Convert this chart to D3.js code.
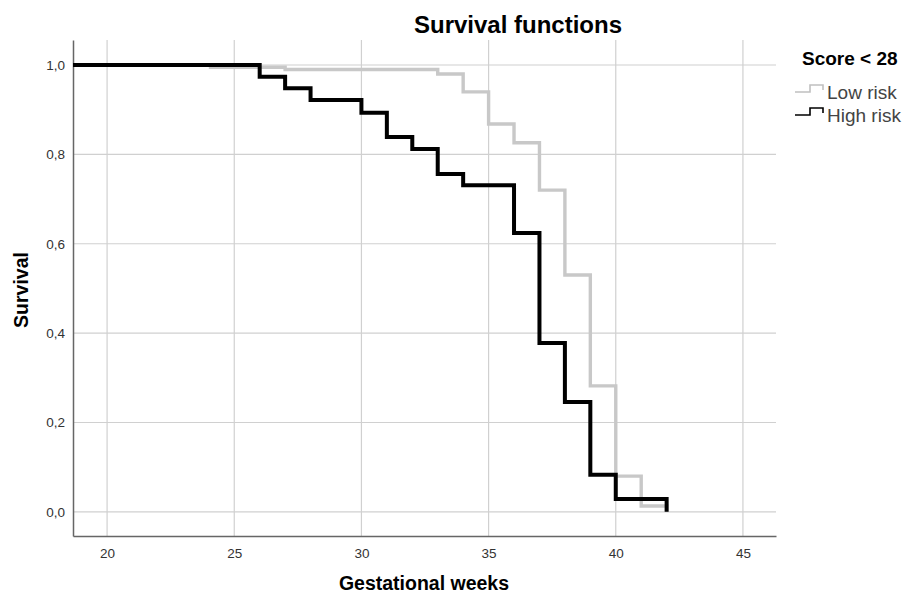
<!DOCTYPE html>
<html>
<head>
<meta charset="utf-8">
<script src="https://cdn.jsdelivr.net/npm/d3@7"></script>
<style>
  body { margin: 0; background: #fff; }
  text { font-family: Arial, "Liberation Sans", sans-serif; }
</style>
</head>
<body>
<svg id="chart" width="904" height="596"></svg>
<script>
// Kaplan-Meier step data
var weeks = [20, 25, 30, 35, 40, 45];
var survivalTicks = [0, 0.2, 0.4, 0.6, 0.8, 1.0];

var lowRiskTimes = [24, 27, 33, 34, 35, 36, 37, 38, 39, 40, 41, 42];
var lowRiskSurv  = [0.995, 0.99, 0.98, 0.94, 0.868, 0.826, 0.72, 0.53, 0.282, 0.08, 0.013, 0.0];

var highRiskTimes = [18, 26, 27, 28, 30, 31, 32, 33, 34, 36, 37, 38, 39, 40, 42];
var highRiskSurv  = [1.0, 0.974, 0.948, 0.922, 0.893, 0.839, 0.812, 0.756, 0.731, 0.624, 0.378, 0.246, 0.083, 0.029, 0.0];

var groups = ["Low risk", "High risk"];
var groupColors = {"Low risk": "#c8c8c8", "High risk": "#000000"};

var svg = d3.select("#chart");
var margin = {top: 40, right: 128, bottom: 60, left: 73};
var width = +svg.attr("width") - margin.left - margin.right;
var height = +svg.attr("height") - margin.top - margin.bottom;
var g = svg.append("g").attr("transform", "translate(" + margin.left + "," + margin.top + ")");

var x = d3.scaleLinear().domain([18.66, 46.3]).range([0, width]);
var y = d3.scaleLinear().domain([-0.054, 1.056]).range([height, 0]);

// Gridlines
g.append("g")
    .selectAll("line")
    .data(weeks)
    .enter().append("line")
    .attr("x1", d => x(d)).attr("x2", d => x(d))
    .attr("y1", 0).attr("y2", height)
    .attr("stroke", "#d0d0d0").attr("stroke-width", 1.2);

g.append("g")
    .selectAll("line")
    .data(survivalTicks)
    .enter().append("line")
    .attr("x1", 0).attr("x2", width)
    .attr("y1", d => y(d)).attr("y2", d => y(d))
    .attr("stroke", "#d0d0d0").attr("stroke-width", 1.2);

// Axes
var fmt = d3.format(".1f");
var xAxis = g.append("g")
    .attr("transform", "translate(0," + height + ")")
    .call(d3.axisBottom(x).tickValues(weeks).tickSize(0).tickPadding(12));
var yAxis = g.append("g")
    .call(d3.axisLeft(y).tickValues(survivalTicks).tickSize(0).tickPadding(8)
        .tickFormat(d => fmt(d).replace(".", ",")));

[xAxis, yAxis].forEach(function(ax) {
    ax.select(".domain").attr("stroke", "#666").attr("stroke-width", 1.5);
    ax.selectAll("text")
        .style("font-size", "13.5px")
        .style("font-family", "Arial, 'Liberation Sans', sans-serif")
        .attr("fill", "#333");
});

// Step lines
var clip = g.append("clipPath").attr("id", "clip")
    .append("rect").attr("width", width).attr("height", height);

var line = d3.line()
    .x(d => x(d[0]))
    .y(d => y(d[1]))
    .curve(d3.curveStepAfter);

var lowData = d3.zip(lowRiskTimes, lowRiskSurv);
var highData = d3.zip(highRiskTimes, highRiskSurv);

g.append("path")
    .datum(lowData)
    .attr("clip-path", "url(#clip)")
    .attr("fill", "none")
    .attr("stroke", groupColors["Low risk"])
    .attr("stroke-width", 3.4)
    .attr("d", line);

g.append("path")
    .datum(highData)
    .attr("clip-path", "url(#clip)")
    .attr("fill", "none")
    .attr("stroke", groupColors["High risk"])
    .attr("stroke-width", 4)
    .attr("d", line);

// Title and axis labels
svg.append("text")
    .attr("x", 518).attr("y", 33)
    .style("text-anchor", "middle")
    .style("font-size", "24px")
    .style("font-weight", "bold")
    .text("Survival functions");

svg.append("text")
    .attr("x", 424).attr("y", 590)
    .style("text-anchor", "middle")
    .style("font-size", "19.5px")
    .style("font-weight", "bold")
    .text("Gestational weeks");

svg.append("text")
    .attr("transform", "translate(28,290) rotate(-90)")
    .style("text-anchor", "middle")
    .style("font-size", "19.5px")
    .style("font-weight", "bold")
    .text("Survival");

// Legend
var legend = svg.append("g").attr("transform", "translate(795,0)");
legend.append("text")
    .attr("x", 7).attr("y", 65)
    .style("font-size", "19px")
    .style("font-weight", "bold")
    .text("Score < 28");

var item = legend.selectAll(".item")
    .data(groups)
    .enter().append("g")
    .attr("class", "item")
    .attr("transform", (d, i) => "translate(0," + (i * 23 + 92) + ")");

item.append("path")
    .attr("d", "M0,0 H15 V-7 H28 V-2")
    .attr("fill", "none")
    .attr("stroke", d => d === "Low risk" ? "#c0c0c0" : "#000")
    .attr("stroke-width", 1.6);

item.append("text")
    .attr("x", 32).attr("y", 7)
    .style("font-size", "19px")
    .attr("fill", "#444")
    .text(d => d);
</script>
</body>
</html>
